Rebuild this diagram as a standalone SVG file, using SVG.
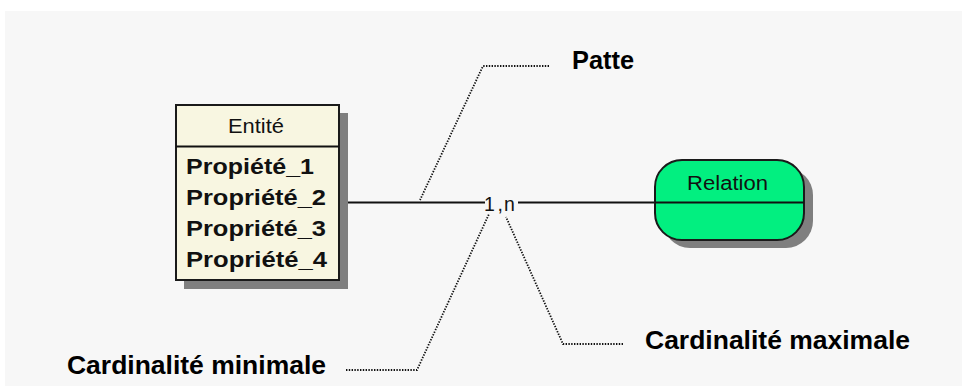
<svg xmlns="http://www.w3.org/2000/svg" width="962" height="386" viewBox="0 0 962 386">
  <style>
    .line { stroke: #111; stroke-width: 1.8; fill: none; }
    .lead { stroke: #111; stroke-width: 1.8; fill: none; stroke-dasharray: 1.4 1.4; }
    .shadow { fill: #7f7f7f; }
    .box { fill: #f8f6e1; stroke: #1a1a1a; stroke-width: 2; }
    .rel { fill: #02ef80; stroke: #1a1a1a; stroke-width: 2; }
    .reg { font-family: "Liberation Sans", Arial, sans-serif; font-size: 19.5px; fill: #111; }
    .prop { font-family: "Liberation Sans", Arial, sans-serif; font-size: 22px; font-weight: bold; fill: #111; }
    .note { font-family: "Liberation Sans", Arial, sans-serif; font-size: 26px; font-weight: bold; fill: #000; }
  </style>

  <!-- canvas -->
  <rect x="0" y="0" width="962" height="386" fill="#ffffff"/>
  <rect x="5" y="11" width="957" height="375" fill="#f7f7f7"/>

  <!-- connectors -->
  <g id="connectors">
    <line class="line" x1="339" y1="202.5" x2="485" y2="202.5"/>
    <line class="line" x1="518" y1="202.5" x2="655" y2="202.5"/>
    <text class="reg" x="484 497.5 504" y="210.5" font-size="18">1,n</text>
    <!-- leaders -->
    <polyline class="lead" points="549,66 483,66 420,200"/>
    <polyline class="lead" points="346,370 417,370 489,214"/>
    <polyline class="lead" points="623,344 563,344 506,217"/>
  </g>

  <!-- entity -->
  <g id="entite">
    <rect class="shadow" x="184" y="113" width="164" height="176"/>
    <rect class="box" x="176" y="105" width="163" height="175"/>
    <line class="line" x1="176" y1="146.5" x2="339" y2="146.5" stroke-width="2"/>
    <text class="reg" x="228" y="133" textLength="56" lengthAdjust="spacingAndGlyphs">Entité</text>
    <text class="prop" x="186" y="174.3" textLength="128" lengthAdjust="spacingAndGlyphs">Propiété_1</text>
    <text class="prop" x="186" y="205" textLength="140" lengthAdjust="spacingAndGlyphs">Propriété_2</text>
    <text class="prop" x="186" y="235.5" textLength="140" lengthAdjust="spacingAndGlyphs">Propriété_3</text>
    <text class="prop" x="186" y="266.5" textLength="141" lengthAdjust="spacingAndGlyphs">Propriété_4</text>
  </g>

  <!-- relation -->
  <g id="relation">
    <rect class="shadow" x="663" y="168" width="150" height="80" rx="27" ry="27"/>
    <rect class="rel" x="655" y="160" width="149" height="80" rx="27" ry="27"/>
    <line class="line" x1="655" y1="202.5" x2="804" y2="202.5" stroke-width="2"/>
    <text class="reg" x="687" y="189.5" textLength="81" lengthAdjust="spacingAndGlyphs">Relation</text>
  </g>

  <!-- annotations -->
  <g id="labels">
    <text class="note" x="572" y="69" textLength="62" lengthAdjust="spacingAndGlyphs">Patte</text>
    <text class="note" x="67" y="373.5" textLength="259" lengthAdjust="spacingAndGlyphs">Cardinalité minimale</text>
    <text class="note" x="645" y="349" textLength="265" lengthAdjust="spacingAndGlyphs">Cardinalité maximale</text>
  </g>
</svg>
